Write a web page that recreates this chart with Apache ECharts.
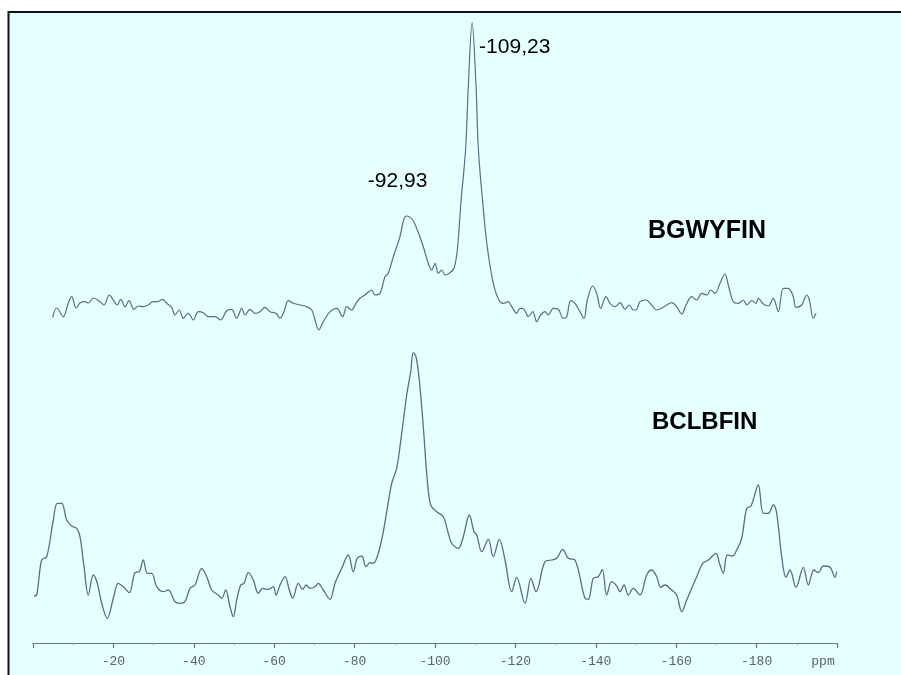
<!DOCTYPE html>
<html>
<head>
<meta charset="utf-8">
<script src="https://cdn.jsdelivr.net/npm/echarts@6/dist/echarts.min.js"></script>
<style>
  html, body { margin: 0; padding: 0; background: #ffffff; }
  #chart { width: 901px; height: 675px; }
</style>
</head>
<body>
<div id="chart"></div>
<script>
// 29Si NMR spectra, chemical shift in ppm (x) and signal intensity (arbitrary units)
const shiftTop = [
  -4.90, -5.90, -7.54, -8.78, -9.63, -10.70, -11.69, -12.94, -13.76, -15.00,
  -16.67, -17.66, -18.98, -19.98, -20.97, -21.82, -22.89, -23.88, -25.12, -26.19,
  -27.44, -28.68, -29.78, -30.92, -32.26, -33.26, -34.50, -35.32, -36.39, -37.39,
  -38.63, -39.88, -41.12, -42.36, -43.61, -45.27, -46.69, -48.18, -49.43, -50.67,
  -51.92, -52.74, -53.98, -55.22, -56.47, -57.71, -58.96, -60.45, -61.44, -62.44,
  -63.51, -64.75, -66.42, -68.08, -69.33, -70.15, -71.07, -72.21, -73.88, -75.55,
  -77.04, -78.03, -79.28, -80.35, -81.34, -82.59, -84.25, -85.07, -86.32, -87.56,
  -88.38, -89.63, -91.29, -92.20, -92.93, -94.45, -95.60, -97.09, -98.33, -99.18,
  -100.00, -100.82, -101.67, -102.49, -103.73, -104.73, -105.55, -106.50, -107.60, -108.30,
  -109.23, -110.20, -110.80, -112.20, -113.10, -114.50, -115.90, -117.00, -118.20, -119.08,
  -120.32, -121.14, -122.14, -123.21, -124.30, -125.30, -126.29, -127.36, -128.18, -129.43,
  -130.67, -131.92, -132.76, -133.76, -134.83, -136.07, -137.06, -137.89, -139.23, -140.22,
  -141.22, -142.54, -143.53, -144.78, -146.02, -147.26, -148.33, -149.33, -150.17, -150.99,
  -152.49, -153.91, -155.15, -156.39, -157.64, -158.88, -160.12, -161.37, -162.44, -163.86,
  -165.10, -166.34, -167.59, -168.58, -169.65, -170.90, -172.14, -172.96, -174.20, -175.45,
  -176.69, -177.54, -178.78, -179.85, -180.42, -181.67, -182.91, -184.15, -185.40, -186.64,
  -187.89, -189.13, -189.80, -191.22, -192.46, -193.11, -194.10, -194.78
];
const intensityTop = [
  12.7, 22, 13.3, 27, 33.3, 22, 27, 28.3, 27, 32,
  28.3, 25, 35, 30, 25, 30.7, 23.3, 29.3, 20.7, 24,
  23.3, 25, 28.3, 28.3, 30.7, 26.7, 22.7, 15, 20, 11.7,
  16.7, 10, 18.3, 17.3, 13.3, 13.3, 10, 19.3, 20.7, 11.7,
  21.7, 15, 20.7, 16.7, 18.3, 22.7, 18.3, 16.7, 11.7, 18.3,
  29.3, 26.7, 25, 23.3, 20, 10, 0, 8.3, 18.3, 21.7,
  13.3, 23.3, 20, 26.7, 31.7, 35, 40, 35, 36.7, 53.3,
  56.7, 73.3, 93.3, 110, 114, 110, 100, 83.3, 66.7, 60,
  66.7, 56.7, 60, 55, 57.3, 61.7, 80, 130, 180, 245,
  307.3, 245, 180, 113.3, 80, 46.7, 30, 26.7, 28.3, 23.3,
  16.7, 21.7, 20.7, 13.3, 18.3, 8.3, 15, 18.3, 15, 21.7,
  20.7, 11.7, 13.3, 29.3, 26.7, 18.3, 11.7, 30, 44, 36.7,
  21.7, 33.3, 26.7, 23.3, 27.3, 20.7, 25, 20, 20.7, 28.3,
  30, 25, 20, 21.7, 25, 27.3, 23.3, 16, 25, 33.3,
  30, 36.7, 35, 40, 36.7, 46.7, 56, 45, 28.3, 26.7,
  30, 25, 29.3, 26.7, 31.7, 26, 24, 31.7, 18.3, 41.7,
  41.7, 33.3, 22.7, 25, 35, 30, 11.7, 16.7
];

const shiftBottom = [
  -0.25, -0.92, -2.16, -3.41, -5.05, -6.04, -7.14, -8.38, -9.63, -10.87,
  -11.69, -12.69, -13.76, -15.00, -16.00, -17.09, -18.48, -19.98, -21.22, -22.46,
  -23.96, -25.37, -26.44, -27.44, -28.43, -29.53, -30.77, -32.41, -33.66, -35.32,
  -36.57, -37.81, -39.05, -40.30, -41.97, -43.21, -44.45, -46.09, -46.94, -47.94,
  -49.00, -49.83, -50.67, -51.67, -52.49, -53.56, -54.80, -56.04, -57.14, -58.53,
  -59.78, -60.45, -61.44, -62.69, -63.76, -64.60, -66.00, -67.09, -67.91, -68.91,
  -70.15, -70.97, -72.21, -73.88, -75.12, -76.79, -78.43, -79.68, -80.67, -81.77,
  -82.84, -83.83, -84.65, -85.90, -87.14, -89.23, -90.47, -91.72, -92.96, -93.96,
  -94.60, -95.27, -96.09, -97.09, -98.08, -98.93, -100.42, -102.06, -103.31, -104.15,
  -105.80, -107.04, -108.53, -109.70, -110.37, -111.62, -113.26, -114.50, -116.00, -117.41,
  -119.08, -120.32, -122.39, -123.88, -125.12, -127.36, -129.03, -130.27, -131.77, -133.16,
  -134.83, -137.31, -138.13, -139.38, -140.62, -141.62, -142.71, -143.95, -145.20, -146.02,
  -147.01, -148.08, -149.33, -150.99, -152.66, -153.91, -155.15, -156.14, -157.21, -158.88,
  -160.12, -161.37, -162.61, -163.86, -165.10, -166.59, -167.99, -169.90, -170.72, -171.72,
  -172.71, -174.05, -175.05, -176.29, -177.54, -178.61, -180.42, -181.67, -182.91, -184.15,
  -185.00, -186.24, -187.31, -188.31, -189.80, -191.62, -192.86, -194.28, -195.35, -196.59,
  -198.26, -199.50, -199.93
];
const intensityBottom = [
  47, 48, 83, 86.3, 123, 139.7, 139.7, 123, 117, 114.7,
  106.3, 76.3, 48, 68, 59.7, 39.7, 24.7, 44.7, 59.7, 56.3,
  50.3, 70.3, 71.3, 83, 69.7, 69.7, 56.3, 51.3, 53, 41.3,
  39.7, 41.3, 54.7, 58, 74.7, 66.3, 53, 48, 44.7, 53,
  36.3, 26.3, 43, 58, 59.7, 70.3, 63, 49.7, 54.7, 53.7,
  56.3, 48, 58, 66.3, 53, 44.7, 59.7, 53.7, 58, 54.7,
  56.3, 59.7, 53, 43.7, 59.7, 74.7, 88, 71.3, 84.7, 87,
  76.3, 80.3, 79.7, 89.7, 111.3, 159.7, 174.7, 209.7, 248, 271.3,
  290.3, 286.3, 263, 216.3, 163, 138, 131.3, 126.3, 109.7, 99.7,
  94.7, 106.3, 128, 111.3, 108, 91.3, 103.7, 86.3, 103.7, 83,
  51.3, 65.7, 39.7, 64.7, 51.3, 81.3, 83, 84.7, 93.7, 84.7,
  83, 44.7, 43.7, 64.7, 66.3, 73.7, 48, 61.3, 57, 51.3,
  58, 48, 54.7, 48, 68, 73, 66.3, 55.7, 58, 53,
  48, 31.3, 43, 54.7, 66.3, 79.7, 83, 89.7, 80.3, 69.7,
  88, 87, 93, 104.7, 134.7, 137, 158, 129.7, 129.7, 138,
  129.7, 86.3, 65.7, 73, 55.7, 75.7, 58, 73, 70.3, 77,
  75.7, 65.7, 71.3
];

// Shifts that get a numeric annotation on the upper spectrum
const labelledShifts = [-109.23, -92.93];
const sampleNames = ['BGWYFIN', 'BCLBFIN'];
const axisTicks = [-20, -40, -60, -80, -100, -120, -140, -160, -180];

const lineColor = '#5f6a88';
const fmtShift = v => v.toFixed(2).replace('.', ',');

function buildData(shifts, values, labelled) {
  return shifts.map((s, i) => {
    const idx = labelled.indexOf(s);
    if (idx < 0) return [s, values[i]];
    const isMain = idx === 0;
    return {
      value: [s, values[i]],
      label: {
        show: true,
        formatter: fmtShift(s),
        position: isMain ? 'right' : 'top',
        distance: 5,
        offset: isMain ? [2, 25] : [-9, -19],
        color: '#000',
        fontFamily: 'Liberation Sans, Arial, sans-serif',
        fontSize: 21
      }
    };
  });
}

const chart = echarts.init(document.getElementById('chart'), null, { renderer: 'canvas' });

const xCommon = {
  type: 'value',
  min: -200,
  max: 0,
  interval: 20,
  inverse: true
};

const monoFont = '"Liberation Mono", "DejaVu Sans Mono", monospace';

chart.setOption({
  animation: false,
  backgroundColor: 'transparent',
  graphic: [
    {
      type: 'rect',
      z: -10,
      silent: true,
      shape: { x: 8.5, y: 12, width: 920, height: 700 },
      style: { fill: '#e6ffff', stroke: '#111', lineWidth: 2 }
    },
    {
      type: 'text',
      left: 648, top: 219,
      style: { text: sampleNames[0], fill: '#000', font: 'bold 25px "Liberation Sans", Arial, sans-serif' }
    },
    {
      type: 'text',
      left: 652, top: 410,
      style: { text: sampleNames[1], fill: '#000', font: 'bold 24px "Liberation Sans", Arial, sans-serif' }
    }
  ],
  grid: [
    { left: 33, right: 64, top: 20, height: 310 },
    { left: 33, right: 64, top: 333, height: 310 }
  ],
  xAxis: [
    Object.assign({ gridIndex: 0, show: false }, xCommon),
    Object.assign({
      gridIndex: 1,
      axisLine: { show: true, lineStyle: { color: '#6d7488', width: 1.2 } },
      axisTick: { show: true, length: 5, lineStyle: { color: '#6d7488', width: 1.2 } },
      minorTick: { show: true, splitNumber: 2, length: 2, lineStyle: { color: '#8a90a0' } },
      splitLine: { show: false },
      axisLabel: {
        show: true,
        margin: 12,
        showMinLabel: true,
        showMaxLabel: true,
        color: '#5a6270',
        fontFamily: monoFont,
        fontSize: 13,
        formatter: v => {
          if (v === 0) return '';
          if (v === -200) return '{u|ppm}';
          return axisTicks.indexOf(v) >= 0 ? String(v) : '';
        },
        rich: {
          u: {
            color: '#5a6270',
            fontFamily: monoFont,
            fontSize: 13,
            padding: [0, 28, 0, 0]
          }
        }
      }
    }, xCommon)
  ],
  yAxis: [
    { type: 'value', gridIndex: 0, min: 0, max: 310, show: false },
    { type: 'value', gridIndex: 1, min: 0, max: 310, show: false }
  ],
  series: [
    {
      name: sampleNames[0],
      type: 'line',
      xAxisIndex: 0, yAxisIndex: 0,
      data: buildData(shiftTop, intensityTop, labelledShifts),
      showSymbol: true, showAllSymbol: true, symbolSize: 0,
      lineStyle: { color: lineColor, width: 1.2 },
      itemStyle: { color: lineColor },
      smooth: 0.35,
      z: 3
    },
    {
      name: sampleNames[1],
      type: 'line',
      xAxisIndex: 1, yAxisIndex: 1,
      data: shiftBottom.map((s, i) => [s, intensityBottom[i]]),
      showSymbol: false,
      lineStyle: { color: lineColor, width: 1.3 },
      smooth: 0.35,
      z: 3
    }
  ]
});
</script>
</body>
</html>
